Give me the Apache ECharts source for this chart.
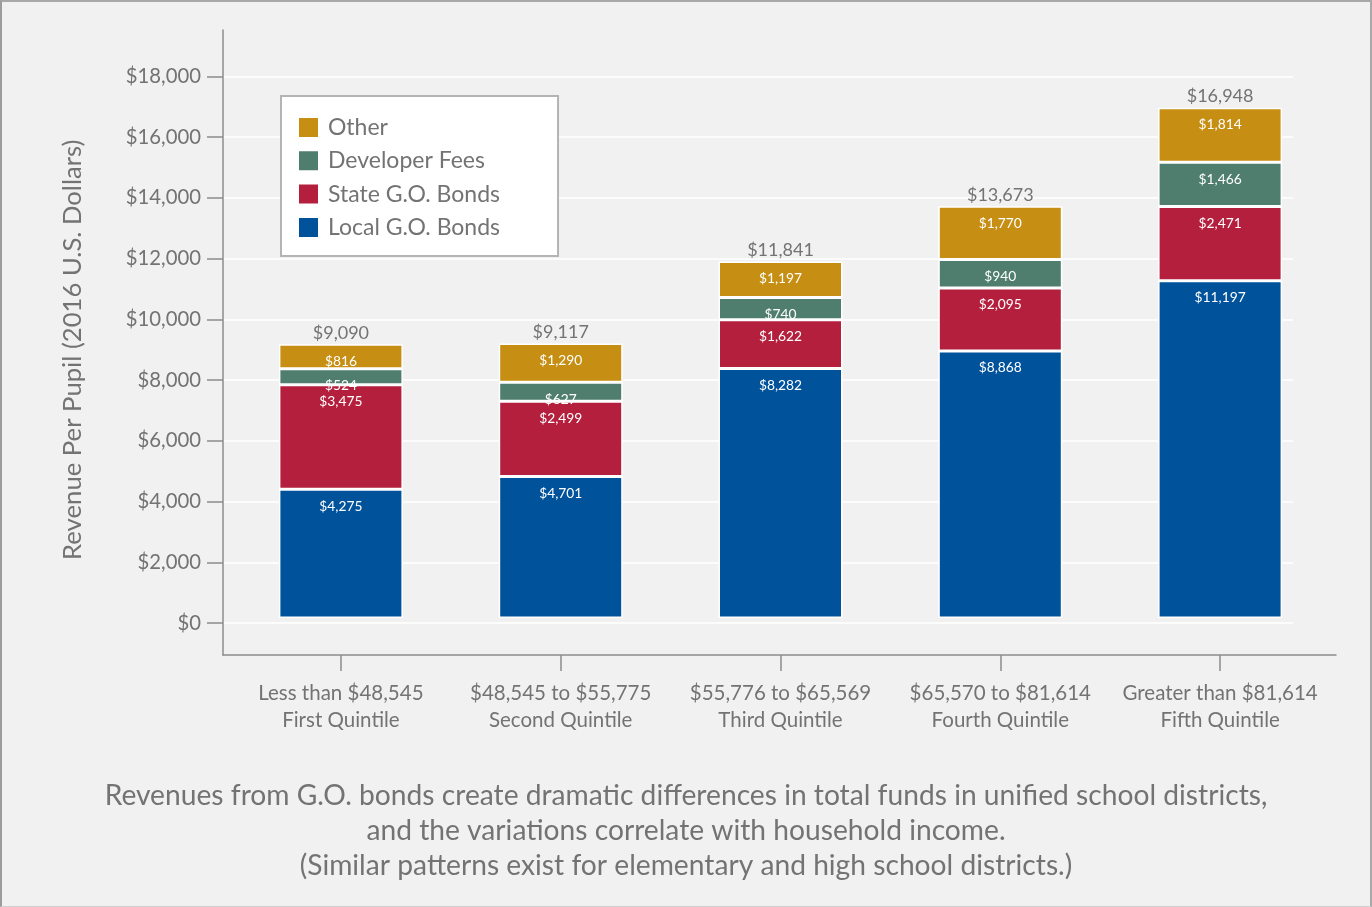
<!DOCTYPE html>
<html>
<head>
<meta charset="utf-8">
<script src="https://cdn.jsdelivr.net/npm/echarts@6/dist/echarts.min.js"></script>
<style>
html,body{margin:0;padding:0;background:#fff;}
#wrap{width:1372px;height:907px;box-sizing:border-box;border-left:2px solid #9c9c9c;border-top:2px solid #a8a8a8;border-right:2px solid #a8a8a8;border-bottom:1px solid #d0d0d0;background:#f1f1f1;}
#chart{width:1368px;height:904px;}
</style>
</head>
<body>
<div id="wrap"><div id="chart"></div></div>
<script>
const categories = ['Less than $48,545\nFirst Quintile', '$48,545 to $55,775\nSecond Quintile', '$55,776 to $65,569\nThird Quintile', '$65,570 to $81,614\nFourth Quintile', 'Greater than $81,614\nFifth Quintile'];
const localGO = [4275, 4701, 8282, 8868, 11197];
const stateGO = [3475, 2499, 1622, 2095, 2471];
const developerFees = [524, 627, 740, 940, 1466];
const other = [816, 1290, 1197, 1770, 1814];
const totals = [9090, 9117, 11841, 13673, 16948];

const FONT = 'Lato';
const GRAY = '#737373';
const fmt = v => '$' + Number(v).toLocaleString('en-US');

const chart = echarts.init(document.getElementById('chart'));
const segLabel = {
  show: true, position: 'insideTop', distance: 10, color: '#fff',
  fontFamily: FONT, fontSize: 13.8,
  formatter: p => fmt(p.value)
};
function barSeries(name, data, color) {
  return {
    name, type: 'bar', stack: 'total', data,
    xAxisIndex: 0, yAxisIndex: 0, barWidth: 124,
    itemStyle: { color, borderColor: '#ffffff', borderWidth: 1.5 },
    label: segLabel
  };
}
chart.setOption({
  backgroundColor: '#f1f1f1',
  textStyle: { fontFamily: FONT },
  animation: false,
  title: {
    text: 'Revenues from G.O. bonds create dramatic differences in total funds in unified school districts,\nand the variations correlate with household income.\n(Similar patterns exist for elementary and high school districts.)',
    left: 'center', top: 771,
    textStyle: { fontFamily: FONT, fontSize: 28.2, lineHeight: 35, fontWeight: 'normal', color: GRAY, align: 'center' }
  },
  legend: {
    data: ['Other', 'Developer Fees', 'State G.O. Bonds', 'Local G.O. Bonds'],
    orient: 'vertical', left: 279, top: 94,
    backgroundColor: '#ffffff', borderColor: '#b4b4b4', borderWidth: 2,
    padding: [20, 58, 17, 16],
    itemWidth: 21, itemHeight: 21, itemGap: 10.3,
    icon: 'rect',
    textStyle: { fontFamily: FONT, fontSize: 23, lineHeight: 22, color: GRAY, padding: [0, 0, 0, 4] }
  },
  grid: [
    { left: 229, right: 40, top: 74, bottom: 251 },
    { left: 221, right: 77, top: 74.5, bottom: 283 },
    { left: 221, right: 34, top: 28, bottom: 251 }
  ],
  xAxis: [
    { type: 'category', gridIndex: 0, data: categories,
      axisLine: { show: false, onZero: false },
      axisTick: { show: true, alignWithLabel: true, interval: 0, length: 16, lineStyle: { color: '#8c8c8c', width: 1.5 } },
      axisLabel: { interval: 0, margin: 25, fontFamily: FONT, fontSize: 20.5, lineHeight: 27, color: GRAY } },
    { type: 'category', gridIndex: 1, data: categories, show: false },
    { type: 'category', gridIndex: 2, data: categories,
      axisLine: { show: true, onZero: false, lineStyle: { color: '#8c8c8c', width: 1.5 } },
      axisTick: { show: false }, axisLabel: { show: false } }
  ],
  yAxis: [
    { type: 'value', gridIndex: 0, min: -1229, max: 18000, show: false },
    { type: 'value', gridIndex: 1, min: 0, max: 18000, interval: 2000,
      axisLine: { show: false },
      axisTick: { show: true, length: 16, lineStyle: { color: '#8c8c8c', width: 1.5 } },
      splitLine: { show: true, lineStyle: { color: '#ffffff', width: 1.5 } },
      axisLabel: { margin: 22, fontFamily: FONT, fontSize: 20.3, color: GRAY, formatter: v => fmt(v) },
      name: 'Revenue Per Pupil (2016 U.S. Dollars)', nameLocation: 'middle', nameGap: 137,
      nameTextStyle: { fontFamily: FONT, fontSize: 25.7, color: GRAY } },
    { type: 'value', gridIndex: 2, min: 0, max: 1,
      axisLine: { show: true, lineStyle: { color: '#8c8c8c', width: 1.5 } },
      axisTick: { show: false }, axisLabel: { show: false }, splitLine: { show: false } }
  ],
  series: [
    barSeries('Local G.O. Bonds', localGO, '#00529b'),
    barSeries('State G.O. Bonds', stateGO, '#b41f3d'),
    barSeries('Developer Fees', developerFees, '#4f7e6f'),
    barSeries('Other', other, '#c68e12'),
    { name: 'Total', type: 'line', data: totals, xAxisIndex: 0, yAxisIndex: 0,
      symbol: 'circle', symbolSize: 1, itemStyle: { color: 'rgba(0,0,0,0)' },
      lineStyle: { opacity: 0 }, silent: true,
      label: { show: true, position: 'top', distance: 2, fontFamily: FONT, fontSize: 18, color: GRAY, formatter: p => fmt(p.value) } },
    { type: 'bar', xAxisIndex: 1, yAxisIndex: 1, data: [], silent: true }
  ]
});
</script>
</body>
</html>
